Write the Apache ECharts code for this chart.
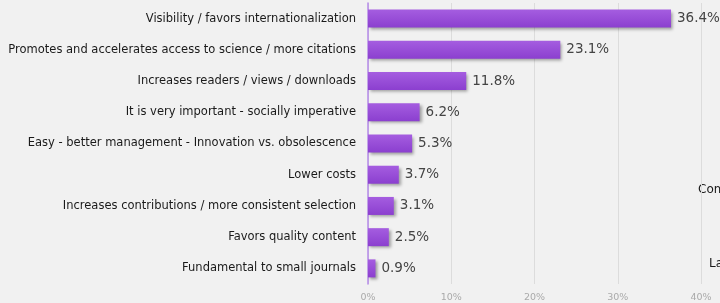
<!DOCTYPE html>
<html><head><meta charset="utf-8">
<script src="https://cdn.jsdelivr.net/npm/echarts@6/dist/echarts.min.js"></script>
<style>html,body{margin:0;padding:0;background:#f1f1f1;}#c{width:720px;height:303px;}</style>
</head><body><div id="c"></div>
<script>
const categories = [
  "Visibility / favors internationalization",
  "Promotes and accelerates access to science / more citations",
  "Increases readers / views / downloads",
  "It is very important - socially imperative",
  "Easy - better management - Innovation vs. obsolescence",
  "Lower costs",
  "Increases contributions / more consistent selection",
  "Favors quality content",
  "Fundamental to small journals"
];
const values = [36.4, 23.1, 11.8, 6.2, 5.3, 3.7, 3.1, 2.5, 0.9];
const xTicks = [0, 10, 20, 30, 40];

const chart = echarts.init(document.getElementById('c'), null, {renderer: 'canvas'});
chart.setOption({
  backgroundColor: '#f1f1f1',
  animation: false,
  grid: {left: 368, right: 19, top: 3, bottom: 18, containLabel: false},
  xAxis: {
    type: 'value', min: xTicks[0], max: xTicks[xTicks.length - 1], interval: 10,
    axisLine: {show: false}, axisTick: {show: false},
    splitLine: {lineStyle: {color: '#dcdcdc', width: 1}},
    axisLabel: {formatter: v => v + '%', color: '#aaa', fontSize: 9.5, fontFamily: 'DejaVu Sans', margin: 9}
  },
  yAxis: {
    type: 'category', data: categories, inverse: true,
    axisLine: {lineStyle: {color: '#b48ae8', width: 1.5}},
    axisTick: {show: false},
    axisLabel: {color: '#1a1a1a', fontSize: 11.5, fontFamily: 'DejaVu Sans', margin: 12}
  },
  series: [{
    type: 'bar', data: values, barWidth: 18,
    itemStyle: {
      color: new echarts.graphic.LinearGradient(0, 0, 0, 1, [
        {offset: 0, color: '#a55de0'},
        {offset: 1, color: '#8b3fcf'}
      ]),
      shadowColor: 'rgba(0,0,0,0.35)', shadowBlur: 3, shadowOffsetX: 2, shadowOffsetY: 2
    },
    label: {show: true, position: 'right', distance: 6, formatter: p => p.value.toFixed(1) + '%',
      color: '#444', fontSize: 13.5, fontFamily: 'DejaVu Sans'}
  }],
  graphic: [
    {type: 'text', left: 698, top: 184, style: {text: 'Com', fill: '#1a1a1a', fontSize: 12, fontFamily: 'DejaVu Sans'}},
    {type: 'text', left: 709, top: 258, style: {text: 'La', fill: '#1a1a1a', fontSize: 12, fontFamily: 'DejaVu Sans'}}
  ]
});
</script></body></html>
